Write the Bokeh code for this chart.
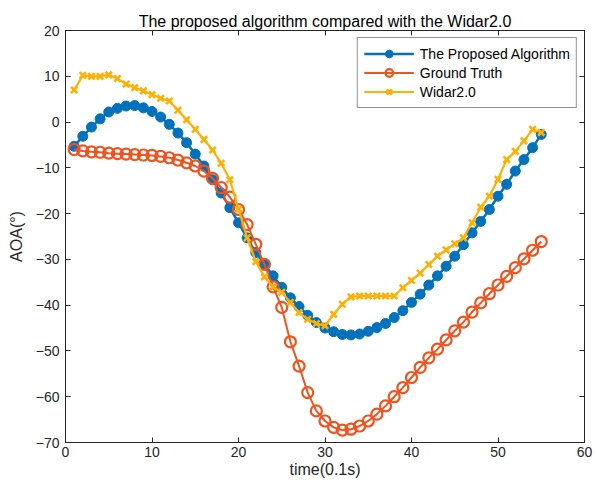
from bokeh.plotting import figure
from bokeh.models import LinearAxis, Range1d, FixedTicker, Legend
from bokeh.embed import file_html
from bokeh.resources import INLINE

t = list(range(1, 56))

proposed = [-5.3, -3.1, -1.1, 0.7, 2.2, 3.0, 3.5, 3.6, 3.1, 2.3,
            1.1, -0.5, -2.4, -4.5, -7.0, -9.6, -12.6, -15.5, -18.7, -22.0,
            -25.3, -28.5, -31.1, -33.6, -36.1, -38.4, -40.3, -42.2, -43.8, -45.0,
            -45.8, -46.4, -46.5, -46.3, -45.7, -44.9, -44.0, -42.7, -41.2, -39.4,
            -37.6, -35.6, -33.6, -31.5, -29.3, -26.8, -24.2, -21.7, -19.1, -16.2,
            -13.6, -10.7, -8.2, -5.6, -2.7]

ground_truth = [-6.0, -6.3, -6.5, -6.6, -6.8, -6.9, -7.0, -7.1, -7.2, -7.3,
                -7.5, -7.8, -8.3, -8.9, -9.6, -10.7, -12.3, -14.3, -16.4, -19.1,
                -22.4, -26.7, -31.1, -36.0, -40.5, -48.0, -53.3, -59.1, -63.1, -65.3,
                -66.7, -67.3, -67.1, -66.4, -65.3, -63.8, -62.0, -60.0, -58.0, -55.8,
                -53.6, -51.5, -49.6, -47.6, -45.6, -43.7, -41.5, -39.5, -37.5, -35.6,
                -33.7, -31.8, -29.9, -28.0, -26.1]

widar = [7.0, 10.2, 10.0, 10.0, 10.3, 9.5, 8.3, 7.5, 6.8, 6.0,
         5.2, 4.6, 2.6, 0.5, -1.6, -3.8, -6.1, -9.0, -12.6, -19.0,
         -25.3, -30.5, -33.8, -36.0, -37.2, -39.4, -41.6, -43.1, -44.0, -44.5,
         -42.0, -39.8, -38.2, -38.0, -38.0, -38.0, -38.0, -38.0, -36.2, -34.6,
         -33.0, -31.1, -29.3, -27.9, -26.6, -25.3, -22.0, -18.6, -16.2, -12.5,
         -8.2, -6.4, -4.1, -1.6, -2.3]

x_ticks = [0, 10, 20, 30, 40, 50, 60]
y_ticks = [20, 10, 0, -10, -20, -30, -40, -50, -60, -70]

BLUE = "#0072BD"
RED = "#F2521C"
YELLOW = "#FFB000"
AX = "#262626"
FONT = "Liberation Sans"

p = figure(width=595, height=488, output_backend="svg", toolbar_location=None,
           x_range=Range1d(0, 60), y_range=Range1d(-70, 20),
           min_border_left=65, min_border_right=11, min_border_top=30, min_border_bottom=46,
           title="The proposed algorithm compared with the Widar2.0")

p.title.align = "center"
p.title.text_font = FONT
p.title.text_font_size = "16px"
p.title.text_font_style = "normal"
p.title.text_color = "#000000"
p.title.standoff = 2

p.xgrid.visible = False
p.ygrid.visible = False
p.outline_line_color = AX
p.outline_line_width = 1

for ax, ticks in ((p.xaxis[0], x_ticks), (p.yaxis[0], y_ticks)):
    ax.ticker = FixedTicker(ticks=ticks)
    ax.major_tick_in = 5
    ax.major_tick_out = 0
    ax.minor_tick_in = 0
    ax.minor_tick_out = 0
    ax.axis_line_color = AX
    ax.major_tick_line_color = AX
    ax.major_label_text_font = FONT
    ax.major_label_text_font_size = "14px"
    ax.major_label_text_color = AX
    ax.axis_label_text_font = FONT
    ax.axis_label_text_font_size = "16px"
    ax.axis_label_text_font_style = "normal"
    ax.axis_label_text_color = AX

p.xaxis.axis_label = "time(0.1s)"
p.yaxis.axis_label = "AOA(°)"
p.xaxis.major_label_standoff = 4
p.xaxis.axis_label_standoff = 1
p.yaxis.major_label_standoff = 6
p.yaxis.axis_label_standoff = 8

top_ax = LinearAxis(ticker=FixedTicker(ticks=x_ticks), major_label_text_font_size="0px",
                    major_tick_in=5, major_tick_out=0, minor_tick_in=0, minor_tick_out=0,
                    axis_line_color=AX, major_tick_line_color=AX)
right_ax = LinearAxis(ticker=FixedTicker(ticks=y_ticks), major_label_text_font_size="0px",
                      major_tick_in=5, major_tick_out=0, minor_tick_in=0, minor_tick_out=0,
                      axis_line_color=AX, major_tick_line_color=AX)
p.add_layout(top_ax, "above")
p.add_layout(right_ax, "right")

l1 = p.line(t, proposed, line_color=BLUE, line_width=2.5)
s1 = p.scatter(t, proposed, marker="circle", size=10, fill_color=BLUE, line_color=BLUE)
l2 = p.line(t, ground_truth, line_color=RED, line_width=2)
s2 = p.scatter(t, ground_truth, marker="circle", size=11, fill_color=None,
               line_color=RED, line_width=2.2)
l3 = p.line(t, widar, line_color=YELLOW, line_width=2.2)
s3 = p.scatter(t, widar, marker="x", size=9, line_color=YELLOW, line_width=2.6)

legend = Legend(items=[("The Proposed Algorithm", [l1, s1]),
                       ("Ground Truth", [l2, s2]),
                       ("Widar2.0", [l3, s3])],
                location="top_right")
legend.margin = 7
legend.padding = 6
legend.spacing = 0
legend.glyph_width = 50
legend.glyph_height = 19
legend.label_height = 19
legend.label_standoff = 6
legend.label_text_font = FONT
legend.label_text_font_size = "14px"
legend.label_text_color = "#000000"
legend.border_line_color = AX
legend.border_line_width = 1
legend.background_fill_alpha = 1.0
p.add_layout(legend, "center")

open("out.html", "w").write(file_html(p, INLINE))
